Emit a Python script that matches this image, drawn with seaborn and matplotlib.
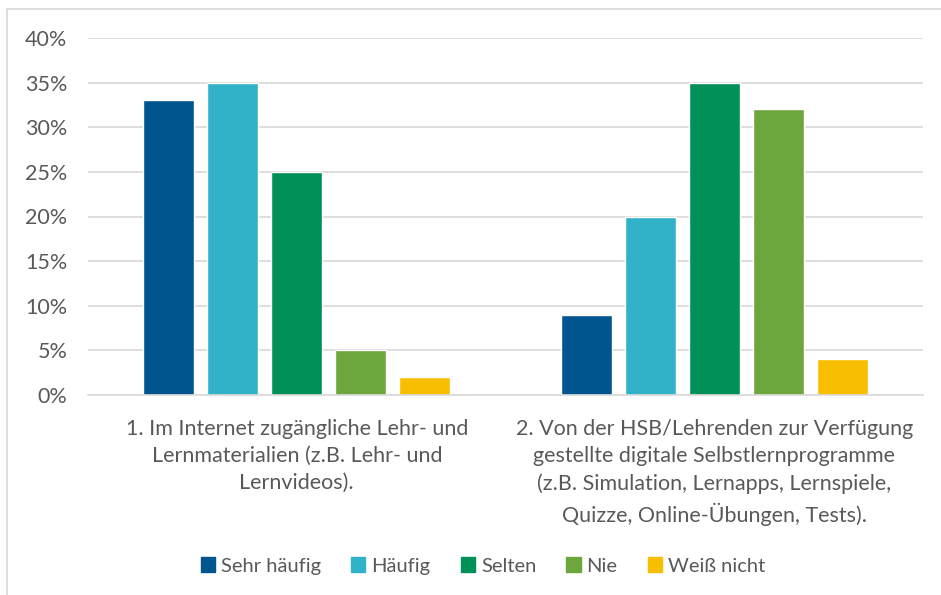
import pandas as pd
import matplotlib.pyplot as plt
import seaborn as sns
from matplotlib.patches import Rectangle
from matplotlib.ticker import PercentFormatter

categories = [
    "1. Im Internet zugängliche Lehr- und\nLernmaterialien (z.B. Lehr- und\nLernvideos).",
    "2. Von der HSB/Lehrenden zur Verfügung\ngestellte digitale Selbstlernprogramme\n(z.B. Simulation, Lernapps, Lernspiele,\nQuizze, Online-Übungen, Tests).",
]
series = ["Sehr häufig", "Häufig", "Selten", "Nie", "Weiß nicht"]
values_1 = [33, 35, 25, 5, 2]
values_2 = [9, 20, 35, 32, 4]
colors = ["#00558F", "#31B2C9", "#009058", "#6DA63C", "#F8BF00"]

rows = []
for s, v1, v2 in zip(series, values_1, values_2):
    rows.append({"cat": categories[0], "series": s, "val": v1})
    rows.append({"cat": categories[1], "series": s, "val": v2})
df = pd.DataFrame(rows)

sns.set_style("white")
plt.rcParams['font.family'] = ['Lato', 'DejaVu Sans']

fig = plt.figure(figsize=(9.41, 5.95), dpi=100)
ax = fig.add_axes([88 / 941, 1 - 395 / 595, (923 - 88) / 941, (395 - 38) / 595])

sns.barplot(data=df, x="cat", y="val", hue="series", hue_order=series,
            palette=colors, width=0.766, gap=0.2, order=categories,
            saturation=1, ax=ax, legend=False)

ax.set_ylim(0, 40)
ax.set_yticks(range(0, 41, 5))
ax.yaxis.set_major_formatter(PercentFormatter(decimals=0))
ax.grid(axis="y", color="#D9D9D9", linewidth=1.2)
ax.set_axisbelow(True)
for side in ["left", "right", "top"]:
    ax.spines[side].set_visible(False)
ax.spines["bottom"].set_color("#D9D9D9")
ax.spines["bottom"].set_linewidth(1.2)
ax.set_xlabel("")
ax.set_ylabel("")
ax.tick_params(axis="y", length=0, labelsize=15.5, labelcolor="#595959", pad=15)
ax.tick_params(axis="x", length=0, labelsize=15.5, labelcolor="#595959", pad=17)
for lbl in ax.get_xticklabels():
    lbl.set_linespacing(1.45)

handles = [Rectangle((0, 0), 1, 1, color=c) for c in colors]
fig.legend(handles, series, loc="center", bbox_to_anchor=(483 / 941, 1 - 566 / 595),
           ncol=5, frameon=False, fontsize=14.5, labelcolor="#595959",
           handlelength=0.7, handleheight=0.7, handletextpad=0.3, columnspacing=1.5)

fig.patches.append(Rectangle((7 / 941, -0.1), 1.2, 1 - 9 / 595 + 0.1, transform=fig.transFigure,
                             fill=False, edgecolor="#D9D9D9", linewidth=1.2))

fig.savefig("out.png", dpi=100)
